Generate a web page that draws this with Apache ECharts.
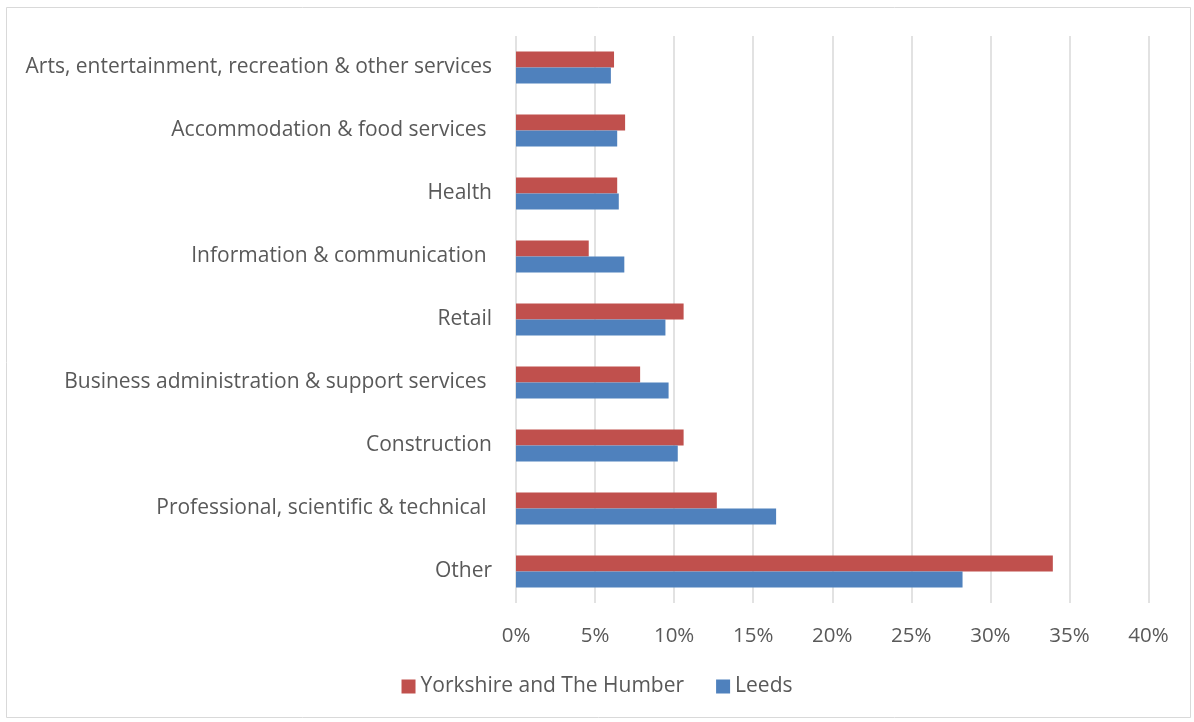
<!DOCTYPE html>
<html><head><meta charset="utf-8">
<script src="https://cdn.jsdelivr.net/npm/echarts@6/dist/echarts.min.js"></script>
<style>html,body{margin:0;padding:0;background:#fff}#c{width:1194px;height:722px}</style>
</head><body><div id="c"></div>
<script>
const categories = [
  'Other',
  'Professional, scientific & technical ',
  'Construction',
  'Business administration & support services ',
  'Retail',
  'Information & communication ',
  'Health',
  'Accommodation & food services ',
  'Arts, entertainment, recreation & other services'
];
const yorkshire = [0.3395, 0.127, 0.106, 0.0785, 0.106, 0.046, 0.064, 0.069, 0.062];
const leeds     = [0.2824, 0.1645, 0.1023, 0.0965, 0.0945, 0.0685, 0.065, 0.064, 0.060];
const xTicks = [0, 0.05, 0.10, 0.15, 0.20, 0.25, 0.30, 0.35, 0.40];

const font = '"Open Sans", "Noto Sans", sans-serif';
const fs = 20.5;
const chart = echarts.init(document.getElementById('c'), null, {renderer:'canvas'});
chart.setOption({
  animation: false,
  backgroundColor: '#fff',
  graphic: [{type:'rect', shape:{x:6.5,y:7.5,width:1184,height:710}, style:{fill:'none', stroke:'#d9d9d9', lineWidth:1}}],
  legend: {
    data: ['Yorkshire and The Humber', 'Leeds'],
    bottom: 20, left: 'center',
    itemWidth: 14, itemHeight: 14, itemGap: 32,
    icon: 'rect',
    textStyle: {fontFamily: font, fontSize: 21, color: '#595959'}
  },
  grid: {left: 516, right: 45.5, top: 36, bottom: 119, containLabel: false},
  xAxis: {
    type: 'value', min: xTicks[0], max: xTicks[xTicks.length-1], interval: 0.05,
    axisLine: {show: false}, axisTick: {show: false},
    splitLine: {show: true, lineStyle: {color: '#d9d9d9', width: 1.5}},
    axisLabel: {fontFamily: font, fontSize: fs, color: '#595959', margin: 23,
      formatter: v => Math.round(v*100) + '%'}
  },
  yAxis: {
    type: 'category', data: categories,
    axisLine: {show: false}, axisTick: {show: false},
    axisLabel: {fontFamily: font, fontSize: 21, color: '#595959', margin: 24, padding: [4,0,0,0]}
  },
  series: [
    {name: 'Yorkshire and The Humber', type: 'bar', data: yorkshire, itemStyle: {color: '#c0504d'},
     barWidth: 16, barGap: '0%', barCategoryGap: '49%'},
    {name: 'Leeds', type: 'bar', data: leeds, itemStyle: {color: '#4f81bd'},
     barWidth: 16, barGap: '0%'}
  ]
});
</script></body></html>
